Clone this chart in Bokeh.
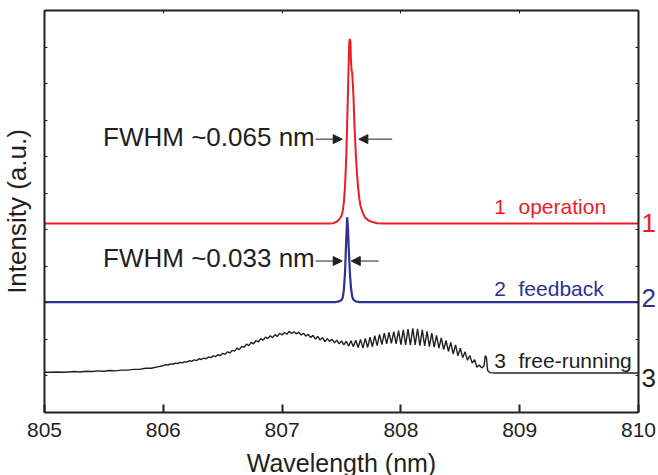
from bokeh.plotting import figure
from bokeh.models import Label, Arrow, NormalHead, LinearAxis, FixedTicker, Range1d
from bokeh.embed import file_html
from bokeh.resources import INLINE

# ---------------- data ----------------
# curve 1: operation (red)
wl1 = [805.00, 807.40, 807.43, 807.46, 807.48, 807.50, 807.51, 807.52, 807.53, 807.54,
       807.55, 807.56, 807.565, 807.57, 807.575, 807.58, 807.585, 807.59, 807.60, 807.61,
       807.62, 807.63, 807.64, 807.65, 807.66, 807.68, 807.70, 807.73, 807.76, 807.80,
       807.85, 810.00]
int1 = [5.17, 5.17, 5.18, 5.22, 5.28, 5.38, 5.50, 5.75, 6.20, 7.00,
        8.20, 9.50, 10.10, 10.22, 10.15, 9.60, 9.35, 9.30, 8.70, 7.80,
        7.10, 6.55, 6.15, 5.85, 5.65, 5.45, 5.33, 5.25, 5.21, 5.18,
        5.17, 5.17]

# curve 2: feedback (blue)
wl2 = [805.00, 807.45, 807.48, 807.50, 807.51, 807.52, 807.53, 807.54, 807.548, 807.555,
       807.56, 807.57, 807.58, 807.59, 807.60, 807.62, 807.65, 810.00]
int2 = [3.02, 3.02, 3.04, 3.08, 3.14, 3.35, 3.85, 4.75, 5.34, 5.00,
        4.55, 3.85, 3.40, 3.18, 3.09, 3.04, 3.02, 3.02]

# curve 3: free-running (black)
wl3_start = [805.00, 805.05, 805.10, 805.15, 805.20, 805.25, 805.30, 805.35, 805.40, 805.45,
             805.50, 805.55, 805.60, 805.65, 805.70, 805.75, 805.80, 805.85, 805.90, 805.95]
int3_start = [1.10, 1.10, 1.11, 1.10, 1.11, 1.12, 1.11, 1.13, 1.12, 1.14,
              1.13, 1.15, 1.14, 1.16, 1.16, 1.18, 1.18, 1.21, 1.21, 1.25]
# dense part, sampled every 0.02 nm from 806.00 nm
int3_dense = [
    1.28, 1.31, 1.30, 1.33, 1.32, 1.35, 1.34, 1.37, 1.36, 1.39,
    1.38, 1.42, 1.40, 1.44, 1.42, 1.47, 1.45, 1.49, 1.47, 1.52,
    1.50, 1.55, 1.53, 1.58, 1.56, 1.62, 1.59, 1.66, 1.63, 1.70,
    1.68, 1.76, 1.72, 1.81, 1.78, 1.87, 1.83, 1.92, 1.88, 1.97,
    1.93, 2.02, 1.98, 2.06, 2.02, 2.10, 2.05, 2.13, 2.08, 2.17,
    2.12, 2.19, 2.14, 2.22, 2.16, 2.21, 2.15, 2.20, 2.12, 2.17,
    2.09, 2.14, 2.05, 2.11, 2.01, 2.08, 1.98, 2.05, 1.94, 2.02,
    1.95, 2.00, 1.91, 1.98, 1.88, 1.96, 1.85, 1.95, 1.82, 1.96,
    1.80, 1.98, 1.78, 2.00, 1.76, 2.03, 1.78, 2.06, 1.80, 2.10,
    1.83, 2.14, 1.86, 2.17, 1.88, 2.19, 1.89, 2.21, 1.88, 2.24,
    1.86, 2.26, 1.85, 2.28, 1.84, 2.30, 1.85, 2.29, 1.83, 2.26,
    1.82, 2.22, 1.80, 2.17, 1.79, 2.11, 1.76, 2.04, 1.72, 1.97,
    1.67, 1.92, 1.60, 1.85, 1.55, 1.76, 1.50, 1.66, 1.43, 1.56,
    1.35, 1.45, 1.24, 1.30, 1.22, 1.28,
]
wl3_dense = [round(806.00 + 0.02 * i, 2) for i in range(len(int3_dense))]
wl3_end = [808.71, 808.72, 808.73, 808.75, 808.80, 810.00]
int3_end = [1.56, 1.50, 1.15, 1.09, 1.08, 1.08]

wl3 = wl3_start + wl3_dense + wl3_end
int3 = int3_start + int3_dense + int3_end

x_ticks = [805, 806, 807, 808, 809, 810]
y_ticks = list(range(0, 12))
X_LO, X_HI = 805, 810
Y_LO, Y_HI = 0, 11

series_num = ["1", "2", "3"]
series_name = ["operation", "feedback", "free-running"]

# ---------------- styles / layout ----------------
RED = "#ec1c24"
BLUE = "#2e3192"
BLACK = "#231f20"
COLORS = [RED, BLUE, BLACK]
FONT = "Liberation Sans"

W, H = 658, 475
FRAME_L, FRAME_R, FRAME_T, FRAME_B = 44, 638, 10, 412   # pixel box of the axes
sx = (FRAME_R - FRAME_L) / (X_HI - X_LO)
sy = (FRAME_B - FRAME_T) / (Y_HI - Y_LO)
xr = Range1d(X_LO - FRAME_L / sx, X_HI + (W - FRAME_R) / sx)
yr = Range1d(Y_LO - (H - FRAME_B) / sy, Y_HI + FRAME_T / sy)

p = figure(width=W, height=H, x_range=xr, y_range=yr,
           output_backend="svg", toolbar_location=None,
           min_border=0, x_axis_type=None, y_axis_type=None)
p.grid.visible = False
p.outline_line_color = None
p.background_fill_color = "white"
p.border_fill_color = "white"

common = dict(axis_line_width=2, axis_line_color=BLACK)

# bottom axis
xa = LinearAxis(fixed_location=Y_LO, bounds=(X_LO, X_HI),
                ticker=FixedTicker(ticks=x_ticks),
                major_tick_in=8, major_tick_out=0, minor_tick_line_color=None,
                major_tick_line_width=2, major_tick_line_color=BLACK,
                major_label_text_font=FONT, major_label_text_font_size="21px",
                major_label_text_color=BLACK, major_label_standoff=10,
                axis_label="Wavelength (nm)", axis_label_text_font=FONT,
                axis_label_text_font_size="25px", axis_label_text_font_style="normal",
                axis_label_text_color=BLACK, axis_label_standoff=9, **common)
p.add_layout(xa, "below")

# left axis: ticks only (minor ticks, so no tick labels), plus title
ya = LinearAxis(fixed_location=X_LO, bounds=(Y_LO, Y_HI),
                ticker=FixedTicker(ticks=[], minor_ticks=y_ticks),
                major_tick_line_color=None, minor_tick_in=3, minor_tick_out=0,
                minor_tick_line_color=BLACK, major_label_standoff=0,
                axis_label="Intensity (a.u.)", axis_label_text_font=FONT,
                axis_label_text_font_size="26px", axis_label_text_font_style="normal",
                axis_label_text_color=BLACK, axis_label_standoff=13, **common)
p.add_layout(ya, "left")

# right and top frame edges with inward ticks
ra = LinearAxis(fixed_location=X_HI, bounds=(Y_LO, Y_HI),
                ticker=FixedTicker(ticks=[], minor_ticks=y_ticks),
                major_tick_line_color=None, minor_tick_in=3, minor_tick_out=0,
                minor_tick_line_color=BLACK, major_label_standoff=0, **common)
p.add_layout(ra, "right")
ta = LinearAxis(fixed_location=Y_HI, bounds=(X_LO, X_HI),
                ticker=FixedTicker(ticks=[], minor_ticks=x_ticks),
                major_tick_line_color=None, minor_tick_in=3, minor_tick_out=0,
                minor_tick_line_color=BLACK, major_label_standoff=0, **common)
p.add_layout(ta, "above")

# curves
p.line(wl3, int3, line_color=BLACK, line_width=1.4)
p.line(wl2, int2, line_color=BLUE, line_width=2.2)
p.line(wl1, int1, line_color=RED, line_width=2)

# FWHM annotations
for (y, xl, xr_, xt, txt) in [(7.48, 807.506, 807.646, 807.927, "FWHM ~0.065 nm"),
                              (4.145, 807.506, 807.582, 807.811, "FWHM ~0.033 nm")]:
    p.add_layout(Arrow(end=NormalHead(size=9, fill_color=BLACK, line_color=BLACK),
                       x_start=807.281, y_start=y, x_end=xl, y_end=y,
                       line_color=BLACK, line_width=1))
    p.add_layout(Arrow(end=NormalHead(size=9, fill_color=BLACK, line_color=BLACK),
                       x_start=xt, y_start=y, x_end=xr_, y_end=y,
                       line_color=BLACK, line_width=1))
    p.add_layout(Label(x=807.275, y=y + 0.07, text=txt, text_align="right",
                       text_baseline="middle", text_font=FONT,
                       text_font_size="26px", text_color=BLACK))

# series labels inside the frame
for (y, num, name, col) in zip([5.63, 3.38, 1.41], series_num, series_name, COLORS):
    p.add_layout(Label(x=808.785, y=y, text=num, text_align="left",
                       text_baseline="middle", text_font=FONT,
                       text_font_size="21px", text_color=col))
    p.add_layout(Label(x=808.99, y=y, text=name, text_align="left",
                       text_baseline="middle", text_font=FONT,
                       text_font_size="21px", text_color=col))

# numbers outside the right edge
for (y, num, col) in zip([5.19, 3.14, 0.95], series_num, COLORS):
    p.add_layout(Label(x=X_HI, y=y, x_offset=3, text=num, text_align="left",
                       text_baseline="middle", text_font=FONT,
                       text_font_size="26px", text_color=col))

open("out.html", "w").write(file_html(p, INLINE))
